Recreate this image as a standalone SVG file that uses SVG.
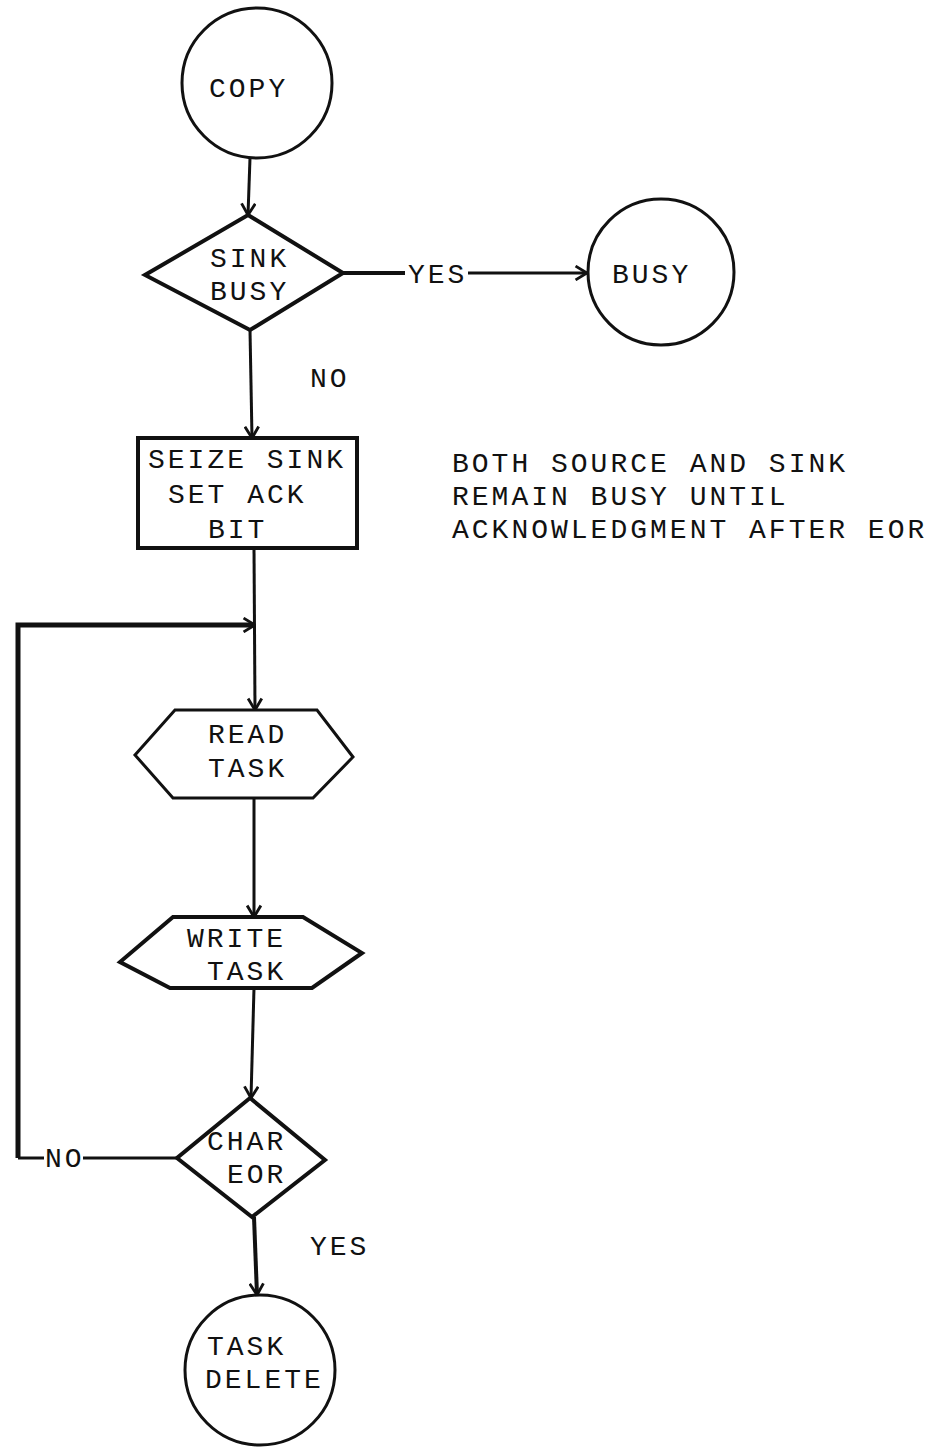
<svg xmlns="http://www.w3.org/2000/svg" width="937" height="1447" viewBox="0 0 937 1447">
<style>
text{font-family:"Liberation Mono","Courier New",monospace;font-size:28px;letter-spacing:3px;fill:#111}
.shape{fill:none;stroke:#111;stroke-width:3}
.thick{fill:none;stroke:#111;stroke-width:4}
.conn{fill:none;stroke:#111;stroke-width:3}
.loop{fill:none;stroke:#111;stroke-width:5}
</style>
<defs>
<marker id="arr" viewBox="0 0 12 14" refX="11" refY="7" markerWidth="14" markerHeight="16" markerUnits="userSpaceOnUse" orient="auto">
<path d="M1,1 L11,7 L1,13" fill="none" stroke="#111" stroke-width="2.5"/>
</marker>
</defs>
<g id="connectors">
<path class="conn" d="M250,158 L248,215" marker-end="url(#arr)"/>
<path class="thick" d="M343,273 L405,273"/>
<path class="conn" d="M468,273 L587,273" marker-end="url(#arr)"/>
<path class="conn" d="M250,330 L252,438" marker-end="url(#arr)"/>
<path class="conn" d="M254,548 L255,710" marker-end="url(#arr)"/>
<path class="loop" d="M18,1158 L18,625 L255,625" marker-end="url(#arr)"/>
<path class="conn" d="M254,798 L254,917" marker-end="url(#arr)"/>
<path class="conn" d="M254,988 L251,1098" marker-end="url(#arr)"/>
<path class="conn" d="M177,1158 L83,1158"/>
<path class="conn" d="M44,1158 L18,1158"/>
<path class="thick" d="M254,1217 L257,1295" marker-end="url(#arr)"/>
<text x="408" y="283">YES</text>
<text x="310" y="387">NO</text>
<text x="45" y="1167">NO</text>
<text x="310" y="1255">YES</text>
</g>
<g id="copy">
<circle class="shape" cx="257" cy="83" r="75"/>
<text x="209" y="97">COPY</text>
</g>
<g id="sink-busy">
<polygon class="thick" points="248,215 343,273 250,330 145,275"/>
<text x="210" y="267">SINK</text>
<text x="210" y="300">BUSY</text>
</g>
<g id="busy">
<circle class="shape" cx="661" cy="272" r="73"/>
<text x="612" y="283">BUSY</text>
</g>
<g id="seize">
<rect class="thick" x="138" y="438" width="219" height="110"/>
<text x="148" y="468">SEIZE SINK</text>
<text x="168" y="503">SET ACK</text>
<text x="208" y="538">BIT</text>
</g>
<g id="note">
<text x="452" y="472">BOTH SOURCE AND SINK</text>
<text x="452" y="505">REMAIN BUSY UNTIL</text>
<text x="452" y="538">ACKNOWLEDGMENT AFTER EOR</text>
</g>
<g id="read-task">
<polygon class="shape" points="175,710 317,710 353,757 313,798 173,798 135,755"/>
<text x="208" y="743">READ</text>
<text x="208" y="777">TASK</text>
</g>
<g id="write-task">
<polygon class="thick" points="173,917 303,917 362,953 312,988 170,988 120,962"/>
<text x="187" y="947">WRITE</text>
<text x="207" y="980">TASK</text>
</g>
<g id="char-eor">
<polygon class="thick" points="250,1098 325,1160 252,1217 177,1158"/>
<text x="207" y="1150">CHAR</text>
<text x="227" y="1183">EOR</text>
</g>
<g id="task-delete">
<circle class="shape" cx="260" cy="1370" r="75"/>
<text x="207" y="1355">TASK</text>
<text x="205" y="1388">DELETE</text>
</g>
</svg>
